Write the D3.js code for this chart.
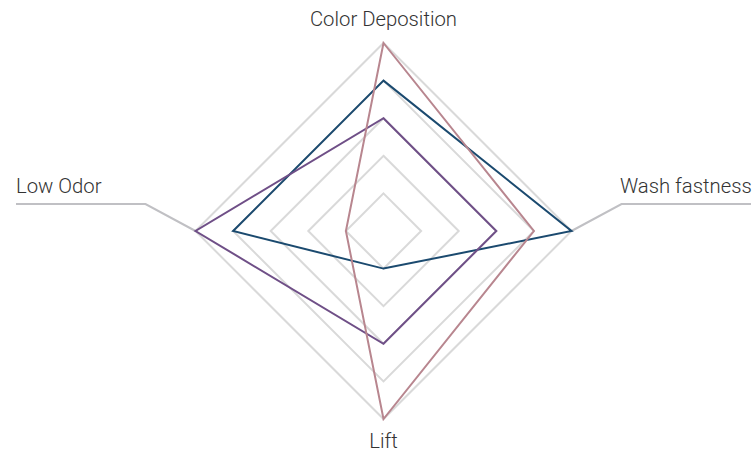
<!DOCTYPE html>
<html><head><meta charset="utf-8">
<script src="https://cdn.jsdelivr.net/npm/d3@7"></script>
<style>html,body{margin:0;padding:0;background:#fff}svg{display:block}</style>
</head><body>
<svg id="c" width="755" height="453"></svg>
<script>
const axes = ["Color Deposition", "Wash fastness", "Lift", "Low Odor"];
const levels = [1, 2, 3, 4, 5];
const seriesNames = ["Blue", "Purple", "Pink"];
const blueVals = [4, 5, 1, 4];
const purpleVals = [3, 3, 3, 5];
const pinkVals = [5, 4, 5, 1];
const colors = ["#1b4a6f", "#6f4f87", "#b8868f"];

(function () {
const svg = d3.select("#c");
const cx = 383.5, cy = 231;
const r = d3.scaleLinear().domain([0, 5]).range([0, 188]);
const ang = d3.scalePoint().domain(axes).range([0, 2 * Math.PI * 3 / 4]);
const pt = (a, v) => { const t = ang(a) - Math.PI / 2; return [cx + r(v) * Math.cos(t), cy + r(v) * Math.sin(t)]; };
const line = d3.line().curve(d3.curveLinearClosed);

const g = svg.append("g");
levels.forEach(l => {
  g.append("path").attr("d", line(axes.map(a => pt(a, l))))
    .attr("fill", "none").attr("stroke", "#d9d9d9").attr("stroke-width", 2);
});

const lab = svg.append("g").attr("font-family", "Roboto, 'Noto Sans', sans-serif")
  .attr("font-weight", 300).attr("font-size", 20.3).attr("fill", "#333");
const pTop = pt(axes[0], 5), pRight = pt(axes[1], 5), pBot = pt(axes[2], 5), pLeft = pt(axes[3], 5);
lab.append("text").attr("x", pTop[0]).attr("y", pTop[1] - 17).attr("text-anchor", "middle").text(axes[0]);
lab.append("text").attr("x", pBot[0]).attr("y", pBot[1] + 29).attr("text-anchor", "middle").text(axes[2]);
svg.append("path").attr("d", d3.line()([pRight, [pRight[0] + 50, pRight[1] - 27], [751, pRight[1] - 27]]))
  .attr("fill", "none").attr("stroke", "#c0c0c4").attr("stroke-width", 2);
lab.append("text").attr("x", 620).attr("y", pRight[1] - 38).text(axes[1]);
svg.append("path").attr("d", d3.line()([pLeft, [pLeft[0] - 50, pLeft[1] - 27], [16, pLeft[1] - 27]]))
  .attr("fill", "none").attr("stroke", "#c0c0c4").attr("stroke-width", 2);
lab.append("text").attr("x", 16).attr("y", pLeft[1] - 38).text(axes[3]);

[blueVals, purpleVals, pinkVals].forEach((vals, i) => {
  svg.append("path").attr("d", line(axes.map((a, j) => pt(a, vals[j]))))
    .attr("fill", "none").attr("stroke", colors[i]).attr("stroke-width", 2)
    .attr("stroke-linejoin", "miter");
});
})();
</script>
</body></html>
